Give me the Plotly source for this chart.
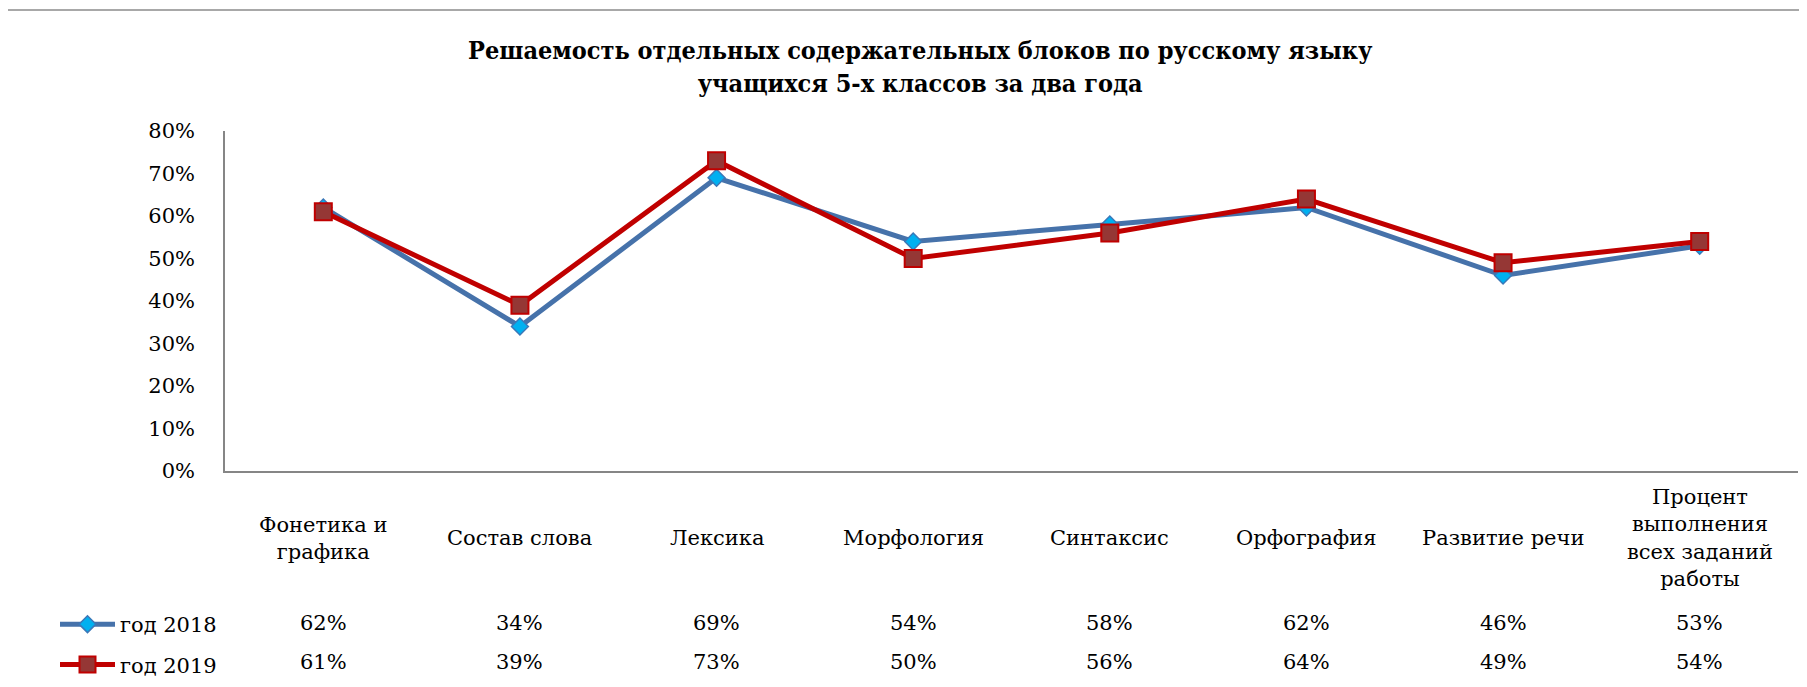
import plotly.graph_objects as go

categories = ["Фонетика и<br>графика", "Состав слова", "Лексика", "Морфология",
              "Синтаксис", "Орфография", "Развитие речи",
              "Процент<br>выполнения<br>всех заданий<br>работы"]
series_names = ["год 2018", "год 2019"]
values_2018 = [0.62, 0.34, 0.69, 0.54, 0.58, 0.62, 0.46, 0.53]
values_2019 = [0.61, 0.39, 0.73, 0.50, 0.56, 0.64, 0.49, 0.54]
y_ticks = [0, 0.1, 0.2, 0.3, 0.4, 0.5, 0.6, 0.7, 0.8]
title_text = "Решаемость отдельных содержательных блоков по русскому языку<br>учащихся 5-х классов за два года"

FONT = "DejaVu Serif"
TFONT = "DejaVu Serif Condensed"
W, H = 1807, 687
OFF = 8  # page body margin
L, R, T, B = 217, 17, 123, 224
PW = W - L - R
PH = H - T - B

def sy(pix):
    return (H - B - (pix - OFF)) / PH

def sx(pix):
    return (pix - OFF - L) / PW

x_idx = list(range(len(categories)))

fig = go.Figure()
fig.add_trace(go.Scatter(
    x=x_idx, y=values_2018, name=series_names[0], mode="lines+markers",
    line=dict(color="#4672AA", width=5),
    marker=dict(symbol="diamond", size=13, color="#00B0F0",
                line=dict(color="#3B78B8", width=1.5)),
    legendgroup="a", cliponaxis=False))
fig.add_trace(go.Scatter(
    x=x_idx, y=values_2019, name=series_names[1], mode="lines+markers",
    line=dict(color="#C00000", width=5),
    marker=dict(symbol="square", size=17, color="#953735",
                line=dict(color="#C00000", width=2)),
    legendgroup="b", cliponaxis=False))

ann = []
ann.append(dict(text="<b>" + title_text + "</b>", x=sx(920), y=sy(67), xref="paper", yref="paper",
                showarrow=False, xanchor="center", yanchor="middle",
                font=dict(family=TFONT, size=25, color="black")))
for i, c in enumerate(categories):
    ann.append(dict(text=c, x=i, y=sy(538), xref="x", yref="paper", showarrow=False,
                    xanchor="center", yanchor="middle",
                    font=dict(family=FONT, size=21, color="black")))
    ann.append(dict(text=f"{round(values_2018[i]*100)}%", x=i, y=sy(623), xref="x", yref="paper",
                    showarrow=False, xanchor="center", yanchor="middle",
                    font=dict(family=FONT, size=21, color="black")))
    ann.append(dict(text=f"{round(values_2019[i]*100)}%", x=i, y=sy(662), xref="x", yref="paper",
                    showarrow=False, xanchor="center", yanchor="middle",
                    font=dict(family=FONT, size=21, color="black")))

fig.update_layout(
    width=W, height=H,
    margin=dict(l=L, r=R, t=T, b=B, autoexpand=False),
    paper_bgcolor="white", plot_bgcolor="white",
    showlegend=True,
    legend=dict(x=sx(55), y=sy(604), xanchor="left", yanchor="top",
                font=dict(family=FONT, size=21, color="black"),
                itemwidth=55,
                traceorder="grouped", tracegroupgap=10, bgcolor="rgba(0,0,0,0)"),
    annotations=ann,
    xaxis=dict(range=[-0.5, len(categories) - 0.5], showticklabels=False, ticks="",
               showgrid=False, zeroline=False, showline=True, linecolor="#868686", linewidth=1.5),
    yaxis=dict(range=[0, 0.8], tickvals=y_ticks, tickformat=".0%", showgrid=False,
               zeroline=False, showline=True, linecolor="#868686", linewidth=1.5, ticks="",
               ticklabelstandoff=24, tickfont=dict(family=FONT, size=21, color="black")),
    shapes=[dict(type="rect", xref="paper", yref="paper", x0=sx(7), x1=sx(1840),
                 y0=sy(730), y1=sy(10), line=dict(color="#8C8C8C", width=1.5),
                 fillcolor="rgba(0,0,0,0)", layer="below")],
)

fig.write_html("out.html")
